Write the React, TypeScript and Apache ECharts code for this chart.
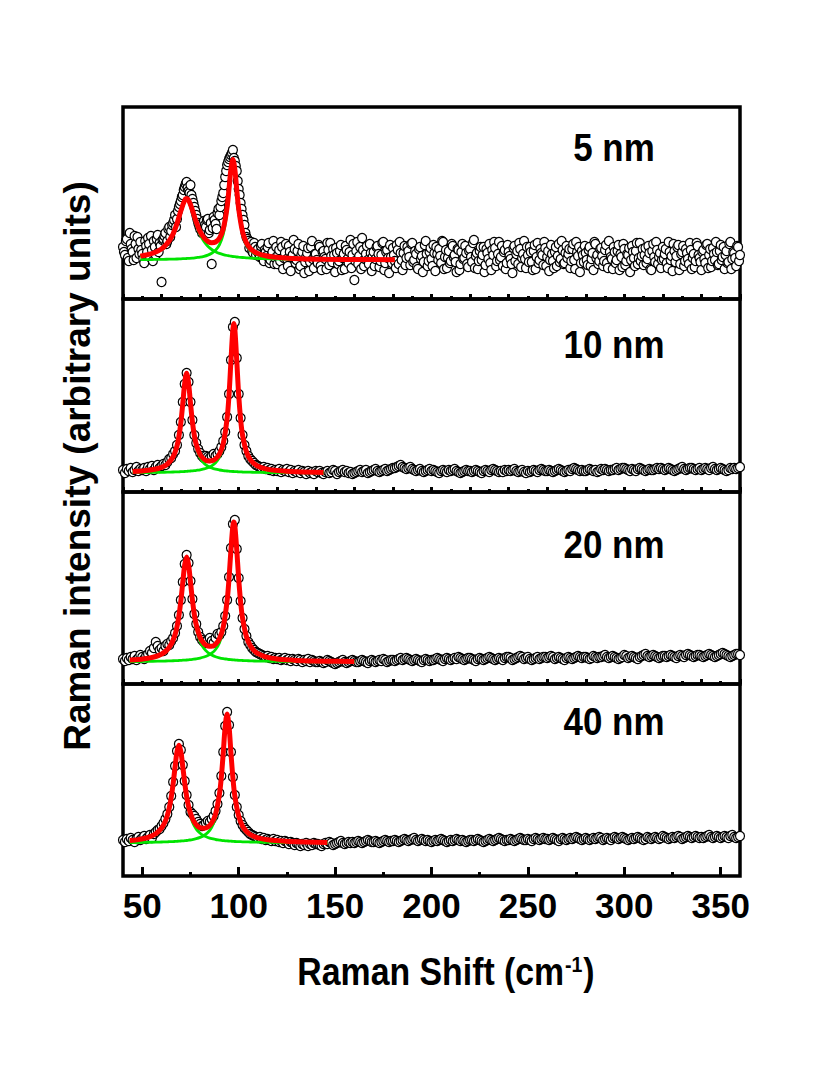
import React, { useEffect, useRef } from "react";
import * as echarts from "echarts";

// ---------- axis ----------
const X_MIN = 40;
const X_MAX = 360;
const X_MAJOR_TICKS = [50, 100, 150, 200, 250, 300, 350];
const X_MINOR_TICKS = [75, 125, 175, 225, 275, 325];
const PANEL_LABELS = ["5 nm", "10 nm", "20 nm", "40 nm"];

// ---------- panel 1 (5 nm) : measured points, x = 40..360 step 1 ----------
const P1_Y = [
  52, 44, 60, 38, 55, 47, 63, 41, 50, 57,
  45, 36, 53, 61, 42, 49, 58, 44, 64, 56,
  17, 60, 66, 58, 72, 68, 76, 84, 80, 92,
  98, 104, 112, 117, 108, 114, 100, 92, 84, 76,
  70, 66, 78, 72, 80, 69, 35, 82, 75, 86,
  84, 98, 106, 122, 134, 140, 144, 149, 138, 128,
  110, 96, 84, 74, 62, 58, 54, 48, 56, 44,
  50, 42, 55, 38, 47, 52, 36, 44, 58, 41,
  35, 49, 57, 30, 46, 40, 53, 28, 44, 50,
  39, 55, 33, 47, 26, 42, 51, 37, 58, 31,
  45, 36, 52, 29, 48, 40, 56, 34, 43, 50,
  27, 46, 38, 54, 41, 30, 49, 36, 59, 44,
  19, 48, 35, 52, 61, 33, 45, 39, 55, 28,
  47, 40, 53, 32, 44, 57, 36, 49, 26, 42,
  51, 38, 54, 35, 46, 29, 53, 41, 48, 34,
  56, 39, 45, 30, 52, 43, 37, 58, 33, 47,
  40, 54, 28, 45, 50, 36, 57, 42, 31, 48,
  38, 53, 44, 27, 49, 35, 55, 41, 46, 32,
  50, 37, 59, 43, 30, 48, 39, 52, 34, 46,
  55, 29, 44, 51, 38, 57, 42, 33, 49, 36,
  47, 40, 26, 53, 45, 35, 50, 41, 58, 31,
  44, 52, 37, 48, 30, 56, 39, 46, 34, 51,
  42, 28, 54, 38, 47, 33, 55, 40, 49, 36,
  53, 45, 31, 50, 39, 57, 43, 27, 48, 37,
  46, 34, 52, 40, 29, 55, 44, 38, 51, 33,
  49, 36, 58, 42, 30, 47, 39, 54, 45, 32,
  50, 38, 44, 27, 53, 41, 48, 35, 56, 43,
  34, 51, 40, 46, 29, 55, 37, 49, 42, 31,
  52, 45, 36, 57, 39, 28, 48, 43, 54, 35,
  47, 33, 50, 40, 56, 30, 45, 38, 53, 41,
  29, 49, 36, 55, 44, 32, 51, 39, 47, 35,
  54, 42, 30, 48, 37, 57, 40, 46, 33, 52,
  44,
];
// panel 1, the interleaved points at x = 40.5..359.5 step 1
const P1_Y_HALF = [
  47, 58, 41, 66, 50, 39, 55, 62, 45, 49,
  40, 58, 47, 55, 63, 38, 52, 60, 47, 53,
  59, 63, 55, 70, 62, 74, 79, 72, 88, 95,
  102, 109, 115, 111, 106, 104, 96, 88, 80, 73,
  75, 68, 74, 79, 66, 76, 71, 79, 70, 90,
  92, 102, 114, 128, 137, 142, 146, 141, 133, 118,
  104, 90, 79, 66, 60, 51, 57, 46, 52, 48,
  45, 53, 40, 49, 43, 56, 39, 47, 35, 52,
  44, 38, 52, 41, 55, 33, 47, 42, 59, 36,
  48, 30, 44, 53, 37, 46, 28, 52, 40, 45,
  39, 54, 33, 47, 42, 30, 49, 56, 37, 44,
  51, 35, 48, 29, 45, 53, 40, 47, 31, 55,
  38, 57, 43, 30, 49, 40, 53, 35, 46, 42,
  33, 52, 45, 38, 56, 29, 47, 41, 54, 36,
  44, 31, 49, 57, 39, 46, 34, 52, 42, 55,
  37, 48, 32, 50, 40, 27, 54, 45, 38, 51,
  33, 46, 52, 39, 43, 58, 30, 49, 41, 36,
  55, 42, 37, 50, 29, 47, 40, 53, 35, 48,
  42, 56, 31, 46, 38, 52, 44, 27, 50, 40,
  36, 49, 57, 33, 45, 39, 53, 47, 30, 54,
  43, 35, 51, 38, 48, 56, 32, 45, 40, 52,
  37, 47, 29, 54, 42, 36, 50, 44, 57, 33,
  48, 39, 45, 31, 52, 43, 37, 58, 35, 46,
  41, 50, 38, 55, 30, 47, 52, 36, 44, 53,
  39, 49, 33, 46, 57, 41, 35, 50, 43, 38,
  54, 31, 47, 40, 52, 36, 48, 29, 42, 55,
  34, 45, 51, 39, 47, 33, 56, 41, 38, 50,
  44, 36, 53, 30, 48, 42, 57, 35, 46, 39,
  40, 50, 31, 47, 43, 55, 37, 52, 29, 45,
  53, 38, 46, 35, 49, 41, 32, 56, 44, 37,
  47, 40, 54, 31, 50, 38, 45, 57, 34, 48,
  39, 52, 44, 36, 55, 30, 47, 41, 53, 38,
];
const P1_FIT_X = [49, 52, 55, 58, 61, 64, 66, 68, 70, 72, 73, 74, 76, 78, 80, 82, 84, 86, 88, 90, 92, 94, 95, 96, 97, 98, 99, 100, 102, 104, 106, 108, 110, 114, 118, 124, 132, 145, 160, 181];
const P1_RED = [42.9, 44.0, 45.5, 47.9, 51.7, 58.3, 65.3, 75.4, 88.2, 98.8, 100.5, 99.0, 88.9, 76.8, 67.3, 61.2, 57.7, 56.2, 57.0, 60.7, 70.1, 92.0, 110.4, 130.1, 139.5, 129.6, 109.2, 90.3, 67.2, 56.3, 50.6, 47.4, 45.4, 43.2, 42.0, 41.0, 40.3, 39.8, 39.5, 39.3];
const P1_G1 = [42.5, 43.5, 45.0, 47.3, 51.0, 57.5, 64.4, 74.4, 87.0, 97.4, 99.0, 97.4, 87.0, 74.4, 64.4, 57.5, 52.8, 49.5, 47.3, 45.6, 44.4, 43.5, 43.2, 42.8, 42.5, 42.3, 42.0, 41.8, 41.5, 41.2, 40.9, 40.7, 40.5, 40.3, 40.1, 39.8, 39.6, 39.4, 39.3, 39.2];
const P1_G2 = [39.4, 39.4, 39.5, 39.6, 39.7, 39.8, 39.9, 40.0, 40.2, 40.4, 40.5, 40.6, 40.9, 41.4, 41.9, 42.7, 43.9, 45.7, 48.7, 54.1, 64.7, 87.5, 106.2, 126.3, 136.0, 126.3, 106.2, 87.5, 64.7, 54.1, 48.7, 45.7, 43.9, 41.9, 40.9, 40.2, 39.7, 39.4, 39.2, 39.1];

// ---------- panel 2 (10 nm) : x = 40..140 step 1, then 141..360 step 1 ----------
const P2_PEAK_Y = [
  22, 19, 23, 21, 24, 20, 22, 25, 21, 23,
  22, 24, 21, 25, 23, 26, 22, 25, 27, 24,
  26, 28, 27, 30, 33, 34, 38, 41, 47, 57,
  70, 90, 108, 119, 110, 90, 72, 57, 49, 43,
  39, 36, 34, 36, 35, 34, 36, 38, 36, 38,
  41, 45, 51, 60, 75, 98, 132, 165, 170, 134,
  98, 74, 57, 47, 41, 36, 33, 31, 29, 27,
  26, 25, 24, 25, 23, 24, 22, 23, 21, 22,
  21, 23, 20, 22, 21, 23, 20, 22, 19, 21,
  20, 22, 19, 21, 20, 18, 21, 19, 20, 18,
  21,
];
const P2_TAIL_Y = [
  20, 21, 19, 18, 20, 21, 19, 20, 22, 21,
  18, 20, 21, 22, 20, 21, 19, 20, 18, 19,
  20, 21, 22, 20, 21, 22, 19, 20, 21, 22,
  23, 21, 20, 21, 22, 23, 21, 22, 23, 24,
  24, 25, 26, 27, 25, 24, 23, 24, 25, 23,
  22, 21, 22, 23, 21, 20, 21, 22, 23, 21,
  22, 21, 20, 19, 21, 22, 21, 20, 22, 21,
  22, 23, 21, 20, 19, 20, 21, 22, 21, 21,
  20, 21, 22, 21, 20, 19, 21, 22, 21, 20,
  22, 23, 22, 21, 20, 21, 20, 22, 21, 22,
  21, 22, 23, 21, 20, 21, 22, 20, 19, 21,
  20, 21, 22, 21, 20, 22, 23, 22, 21, 21,
  22, 21, 20, 21, 22, 23, 22, 21, 20, 21,
  22, 21, 23, 24, 23, 22, 21, 22, 21, 21,
  22, 23, 22, 21, 22, 20, 21, 23, 22, 23,
  22, 21, 22, 22, 23, 24, 22, 23, 24, 24,
  23, 22, 21, 23, 22, 21, 23, 24, 23, 22,
  21, 22, 23, 22, 22, 23, 24, 23, 24, 23,
  22, 23, 24, 23, 22, 21, 22, 23, 24, 25,
  23, 22, 23, 24, 24, 23, 22, 23, 24, 22,
  23, 24, 23, 22, 24, 25, 23, 22, 23, 24,
  23, 22, 21, 22, 24, 23, 24, 23, 24, 25,
];
const P2_FIT_X = [45, 50, 55, 60, 63, 66, 68, 69, 70, 71, 72, 73, 74, 75, 76, 77, 78, 80, 82, 84, 86, 88, 90, 92, 94, 95, 96, 97, 97.5, 98, 99, 100, 101, 102, 104, 106, 108, 110, 114, 120, 130, 144];
const P2_RED = [20.5, 21.1, 22.2, 24.7, 27.9, 35.2, 46.0, 55.5, 69.3, 88.3, 108.7, 118.7, 109.0, 88.9, 70.1, 56.6, 47.5, 37.4, 32.9, 31.1, 31.2, 33.1, 37.9, 48.5, 73.7, 97.7, 131.6, 163.2, 168.5, 163.1, 131.3, 97.1, 72.8, 57.0, 40.3, 32.5, 28.3, 25.8, 23.1, 21.4, 20.2, 19.6];
const P2_G1 = [20.1, 20.6, 21.7, 24.0, 27.1, 34.2, 44.9, 54.3, 68.0, 86.9, 107.2, 117.0, 107.2, 86.9, 68.0, 54.3, 44.9, 34.2, 28.8, 25.8, 24.0, 22.8, 22.0, 21.4, 21.0, 20.8, 20.6, 20.5, 20.5, 20.4, 20.3, 20.2, 20.1, 20.0, 19.9, 19.8, 19.7, 19.6, 19.5, 19.4, 19.3, 19.2];
const P2_G2 = [19.4, 19.4, 19.6, 19.7, 19.8, 20.0, 20.1, 20.2, 20.3, 20.4, 20.5, 20.7, 20.8, 21.0, 21.1, 21.3, 21.6, 22.2, 23.1, 24.3, 26.2, 29.3, 34.9, 46.1, 71.7, 95.9, 130.0, 161.7, 167.0, 161.7, 130.0, 95.9, 71.7, 56.0, 39.4, 31.7, 27.6, 25.1, 22.6, 21.0, 19.9, 19.5];

// ---------- panel 3 (20 nm) ----------
const P3_PEAK_Y = [
  25, 23, 26, 24, 27, 25, 28, 24, 26, 29,
  27, 25, 28, 30, 33, 31, 36, 42, 38, 34,
  36, 33, 38, 40, 39, 43, 46, 51, 58, 69,
  84, 102, 120, 129, 121, 103, 85, 70, 60, 52,
  47, 44, 42, 41, 44, 46, 43, 41, 46, 50,
  49, 52, 58, 68, 84, 107, 136, 160, 164, 135,
  106, 83, 66, 55, 48, 42, 39, 36, 34, 32,
  31, 30, 29, 28, 27, 28, 26, 27, 25, 26,
  25, 26, 24, 25, 26, 24, 25, 23, 25, 24,
  23, 25, 24, 22, 24, 23, 25, 22, 24, 23,
  22,
];
const P3_TAIL_Y = [
  22, 23, 22, 21, 22, 24, 23, 22, 21, 20,
  21, 22, 23, 24, 22, 21, 22, 23, 24, 23,
  22, 22, 23, 24, 23, 22, 21, 23, 24, 23,
  22, 23, 24, 23, 25, 24, 22, 23, 24, 24,
  23, 24, 25, 26, 24, 25, 26, 25, 24, 23,
  24, 25, 24, 23, 22, 24, 25, 24, 23, 24,
  24, 25, 26, 25, 24, 23, 25, 26, 25, 24,
  25, 26, 25, 27, 26, 25, 24, 25, 26, 26,
  25, 24, 23, 25, 26, 25, 24, 25, 26, 27,
  26, 25, 24, 25, 26, 25, 24, 26, 27, 27,
  26, 24, 25, 26, 27, 28, 27, 25, 26, 27,
  25, 24, 25, 26, 27, 25, 26, 27, 27, 26,
  27, 28, 27, 25, 26, 27, 26, 25, 24, 26,
  27, 26, 25, 26, 27, 28, 27, 26, 27, 27,
  26, 25, 26, 28, 27, 26, 27, 27, 28, 29,
  27, 26, 27, 28, 27, 26, 25, 26, 27, 29,
  28, 26, 27, 28, 27, 26, 25, 27, 28, 29,
  30, 28, 27, 28, 29, 28, 27, 26, 27, 28,
  28, 27, 28, 29, 28, 27, 26, 28, 29, 28,
  27, 29, 30, 29, 28, 27, 28, 29, 29, 28,
  27, 28, 29, 30, 29, 28, 27, 28, 29, 30,
  31, 30, 29, 28, 27, 28, 29, 30, 30, 29,
];
const P3_FIT_X = [43.5, 48, 53, 58, 62, 65, 67, 68, 69, 70, 71, 72, 73, 74, 75, 76, 77, 78, 80, 82, 84, 86, 88, 90, 92, 94, 95, 96, 97, 97.5, 98, 99, 100, 101, 102, 104, 106, 108, 110, 114, 120, 130, 145, 160];
const P3_RED = [23.9, 24.5, 25.7, 28.1, 32.5, 39.8, 49.4, 57.3, 68.2, 83.0, 101.4, 119.1, 127.0, 119.4, 102.0, 84.0, 69.6, 59.1, 46.5, 40.5, 38.0, 37.8, 39.8, 45.2, 57.1, 83.3, 106.0, 134.7, 158.5, 162.1, 158.3, 134.2, 105.2, 82.1, 66.0, 47.5, 38.5, 33.4, 30.4, 27.2, 25.0, 23.6, 22.8, 22.5];
const P3_G1 = [23.4, 24.0, 25.1, 27.3, 31.5, 38.6, 48.1, 55.9, 66.7, 81.4, 99.6, 117.2, 125.0, 117.2, 99.6, 81.4, 66.7, 55.9, 42.6, 35.5, 31.5, 29.0, 27.3, 26.2, 25.4, 24.8, 24.5, 24.3, 24.2, 24.1, 24.0, 23.8, 23.7, 23.6, 23.5, 23.3, 23.2, 23.0, 22.9, 22.8, 22.6, 22.4, 22.2, 22.2];
const P3_G2 = [22.4, 22.5, 22.6, 22.8, 23.0, 23.2, 23.3, 23.4, 23.5, 23.6, 23.8, 23.9, 24.0, 24.2, 24.4, 24.6, 24.9, 25.2, 25.9, 27.0, 28.5, 30.8, 34.5, 41.0, 53.7, 80.5, 103.5, 132.4, 156.3, 160.0, 156.3, 132.4, 103.5, 80.5, 64.5, 46.2, 37.3, 32.4, 29.5, 26.4, 24.4, 23.2, 22.6, 22.3];

// ---------- panel 4 (40 nm) ----------
const P4_PEAK_Y = [
  36, 34, 37, 35, 38, 36, 34, 37, 39, 36,
  38, 40, 37, 39, 41, 38, 42, 44, 46, 47,
  50, 53, 57, 62, 69, 80, 94, 110, 125, 132,
  126, 111, 95, 81, 71, 64, 62, 60, 57, 54,
  52, 50, 51, 53, 55, 54, 57, 60, 65, 72,
  83, 100, 124, 150, 164, 151, 124, 99, 81, 69,
  61, 55, 51, 48, 46, 44, 42, 41, 40, 39,
  38, 39, 37, 38, 36, 37, 36, 35, 37, 35,
  36, 34, 35, 33, 35, 34, 32, 34, 33, 31,
  33, 32, 30, 32, 31, 33, 30, 32, 31, 33,
  32,
];
const P4_TAIL_Y = [
  32, 31, 30, 32, 33, 32, 34, 33, 31, 32,
  33, 34, 35, 33, 32, 33, 34, 33, 34, 33,
  34, 35, 34, 33, 34, 35, 36, 35, 34, 34,
  35, 34, 33, 34, 35, 36, 35, 34, 35, 35,
  36, 35, 34, 35, 36, 37, 36, 35, 36, 37,
  38, 36, 35, 36, 37, 36, 35, 36, 35, 34,
  35, 36, 35, 36, 37, 36, 35, 34, 35, 36,
  35, 36, 37, 36, 35, 36, 35, 34, 35, 36,
  36, 35, 36, 37, 36, 35, 34, 35, 36, 37,
  36, 35, 36, 37, 38, 37, 36, 35, 36, 36,
  37, 36, 35, 36, 37, 38, 37, 36, 36, 37,
  36, 35, 37, 38, 37, 36, 37, 38, 37, 37,
  36, 37, 38, 37, 36, 35, 37, 38, 37, 36,
  37, 38, 37, 38, 39, 38, 37, 36, 37, 38,
  37, 36, 37, 38, 37, 38, 39, 38, 36, 37,
  38, 37, 36, 38, 39, 38, 37, 38, 39, 38,
  37, 36, 37, 38, 37, 38, 39, 38, 37, 36,
  37, 39, 38, 37, 38, 39, 38, 37, 38, 40,
  39, 38, 37, 38, 39, 38, 39, 40, 39, 37,
  38, 39, 40, 39, 38, 39, 40, 39, 38, 39,
  38, 39, 40, 41, 39, 38, 39, 40, 39, 38,
  39, 40, 39, 38, 40, 41, 39, 38, 39, 40,
];
const P4_FIT_X = [43.5, 48, 53, 57, 60, 62, 63, 64, 65, 66, 67, 68, 69, 70, 71, 72, 73, 74, 76, 78, 80, 82, 84, 86, 88, 90, 91, 92, 93, 94, 95, 96, 97, 98, 100, 102, 104, 106, 110, 116, 126, 146];
const P4_RED = [35.4, 36.4, 38.6, 42.2, 47.9, 55.1, 60.6, 68.2, 78.6, 92.3, 108.9, 124.2, 130.8, 124.5, 109.4, 93.2, 79.7, 69.7, 57.4, 51.2, 48.3, 47.7, 49.0, 53.0, 61.9, 81.6, 99.1, 123.3, 149.5, 162.1, 149.2, 122.7, 98.2, 80.2, 59.8, 49.9, 44.6, 41.4, 38.1, 35.9, 34.5, 33.6];
const P4_G1 = [35.0, 35.9, 37.9, 41.4, 46.9, 54.0, 59.4, 66.9, 77.2, 90.9, 107.3, 122.5, 129.0, 122.5, 107.3, 90.9, 77.2, 66.9, 54.0, 46.9, 42.8, 40.2, 38.5, 37.3, 36.5, 35.9, 35.6, 35.4, 35.2, 35.1, 34.9, 34.8, 34.7, 34.5, 34.4, 34.2, 34.1, 34.0, 33.8, 33.6, 33.4, 33.2];
const P4_G2 = [33.5, 33.5, 33.7, 33.8, 34.0, 34.1, 34.2, 34.3, 34.4, 34.4, 34.6, 34.7, 34.8, 35.0, 35.1, 35.3, 35.5, 35.8, 36.4, 37.3, 38.6, 40.5, 43.5, 48.7, 58.4, 78.7, 96.5, 120.9, 147.3, 160.0, 147.3, 120.9, 96.5, 78.7, 58.4, 48.7, 43.5, 40.5, 37.3, 35.3, 34.1, 33.4];

const FONT = "'Liberation Sans', Arial, Helvetica, sans-serif";

function pointsUniform(x0: number, step: number, ys: number[]) {
  return ys.map((y, i) => [x0 + i * step, y]);
}
function pairs(xs: number[], ys: number[]) {
  return xs.map((x, i) => [x, ys[i]]);
}

export default function App() {
  const ref = useRef<HTMLDivElement>(null);

  useEffect(() => {
    if (!ref.current) return;
    const chart = echarts.init(ref.current, undefined, { renderer: "svg" });

    const GRID_LEFT = 123;
    const GRID_W = 617;
    const tops = [107, 299, 492, 684];
    const heights = [192, 193, 192, 192];

    const p1pts = [...pointsUniform(40, 1, P1_Y), ...pointsUniform(40.5, 1, P1_Y_HALF)].sort((a, b) => a[0] - b[0]);

    const panels = [
      { pts: p1pts, fx: P1_FIT_X, red: P1_RED, g1: P1_G1, g2: P1_G2 },
      { pts: pointsUniform(40, 1, [...P2_PEAK_Y, ...P2_TAIL_Y]), fx: P2_FIT_X, red: P2_RED, g1: P2_G1, g2: P2_G2 },
      { pts: pointsUniform(40, 1, [...P3_PEAK_Y, ...P3_TAIL_Y]), fx: P3_FIT_X, red: P3_RED, g1: P3_G1, g2: P3_G2 },
      { pts: pointsUniform(40, 1, [...P4_PEAK_Y, ...P4_TAIL_Y]), fx: P4_FIT_X, red: P4_RED, g1: P4_G1, g2: P4_G2 },
    ];

    const grid = tops.map((t, i) => ({
      left: GRID_LEFT,
      top: t,
      width: GRID_W,
      height: heights[i],
      show: true,
      borderColor: "#000",
      borderWidth: 3.5,
      backgroundColor: "transparent",
    }));

    const xAxis: any[] = [];
    for (let i = 0; i < 3; i++) {
      xAxis.push({
        type: "value",
        gridIndex: i,
        min: X_MIN,
        max: X_MAX,
        interval: 20,
        position: "bottom",
        axisLine: { show: false },
        axisLabel: { show: false },
        splitLine: { show: false },
        axisTick: { show: true, inside: true, length: 5, lineStyle: { color: "#000", width: 3 } },
        minorTick: { show: true, splitNumber: 2, length: 3, lineStyle: { color: "#000", width: 3 } },
        minorSplitLine: { show: false },
      });
    }
    xAxis.push({
      type: "value",
      gridIndex: 3,
      min: X_MIN,
      max: X_MAX,
      position: "bottom",
      axisLine: { show: false },
      splitLine: { show: false },
      axisTick: { show: true, inside: true, length: 9, customValues: X_MAJOR_TICKS, lineStyle: { color: "#000", width: 3 } },
      axisLabel: {
        show: true,
        customValues: X_MAJOR_TICKS,
        margin: 12,
        color: "#000",
        fontSize: 35,
        fontWeight: "bold",
        fontFamily: FONT,
      },
    });
    xAxis.push({
      type: "value",
      gridIndex: 3,
      min: X_MIN,
      max: X_MAX,
      position: "bottom",
      axisLine: { show: false },
      splitLine: { show: false },
      axisLabel: { show: false },
      axisTick: { show: true, inside: true, length: 4, customValues: X_MINOR_TICKS, lineStyle: { color: "#000", width: 3 } },
    });

    const yAxis = tops.map((_, i) => ({
      type: "value",
      gridIndex: i,
      min: 0,
      max: heights[i],
      show: false,
    }));

    const series: any[] = [];
    panels.forEach((p, i) => {
      series.push({
        type: "scatter",
        xAxisIndex: i,
        yAxisIndex: i,
        data: p.pts,
        symbol: "circle",
        symbolSize: 9,
        itemStyle: { color: "#ffffff", borderColor: "#000000", borderWidth: 1.2, opacity: 1 },
        silent: true,
        large: false,
        z: 2,
      });
      [p.g1, p.g2].forEach((g) => {
        series.push({
          type: "line",
          xAxisIndex: i,
          yAxisIndex: i,
          data: pairs(p.fx, g),
          showSymbol: false,
          symbol: "none",
          smooth: 0.35,
          lineStyle: { color: "#00e400", width: 2.8 },
          silent: true,
          z: 3,
        });
      });
      series.push({
        type: "line",
        xAxisIndex: i,
        yAxisIndex: i,
        data: pairs(p.fx, p.red),
        showSymbol: false,
        symbol: "none",
        smooth: 0.35,
        lineStyle: { color: "#ff0000", width: 5 },
        silent: true,
        z: 4,
      });
    });

    const labelY = [148, 345, 545, 722];
    const graphic: any[] = PANEL_LABELS.map((t, i) => ({
      type: "text",
      x: 614,
      y: labelY[i],
      scaleX: 0.92,
      silent: true,
      style: {
        text: t,
        fill: "#000",
        font: `bold 38px ${FONT}`,
        align: "center",
        verticalAlign: "middle",
      },
    }));
    graphic.push({
      type: "text",
      x: 77,
      y: 466,
      rotation: Math.PI / 2,
      silent: true,
      style: {
        text: "Raman intensity (arbitrary units)",
        fill: "#000",
        font: `bold 37px ${FONT}`,
        align: "center",
        verticalAlign: "middle",
      },
    });
    graphic.push({
      type: "text",
      x: 446,
      y: 972,
      scaleX: 0.89,
      silent: true,
      style: {
        text: "{a|Raman Shift (cm}{s|-1}{a|)}",
        align: "center",
        verticalAlign: "middle",
        rich: {
          a: { fontSize: 38, fontWeight: "bold", fontFamily: FONT, fill: "#000", color: "#000" },
          s: { fontSize: 22, fontWeight: "bold", fontFamily: FONT, fill: "#000", color: "#000", verticalAlign: "top", padding: [0, 1, 0, 1] },
        },
      },
    });

    chart.setOption({
      animation: false,
      backgroundColor: "#ffffff",
      grid,
      xAxis,
      yAxis,
      series,
      graphic,
    });

    return () => chart.dispose();
  }, []);

  return (
    <div
      ref={ref}
      style={{ position: "absolute", left: 0, top: 0, width: 822, height: 1071 }}
    />
  );
}
